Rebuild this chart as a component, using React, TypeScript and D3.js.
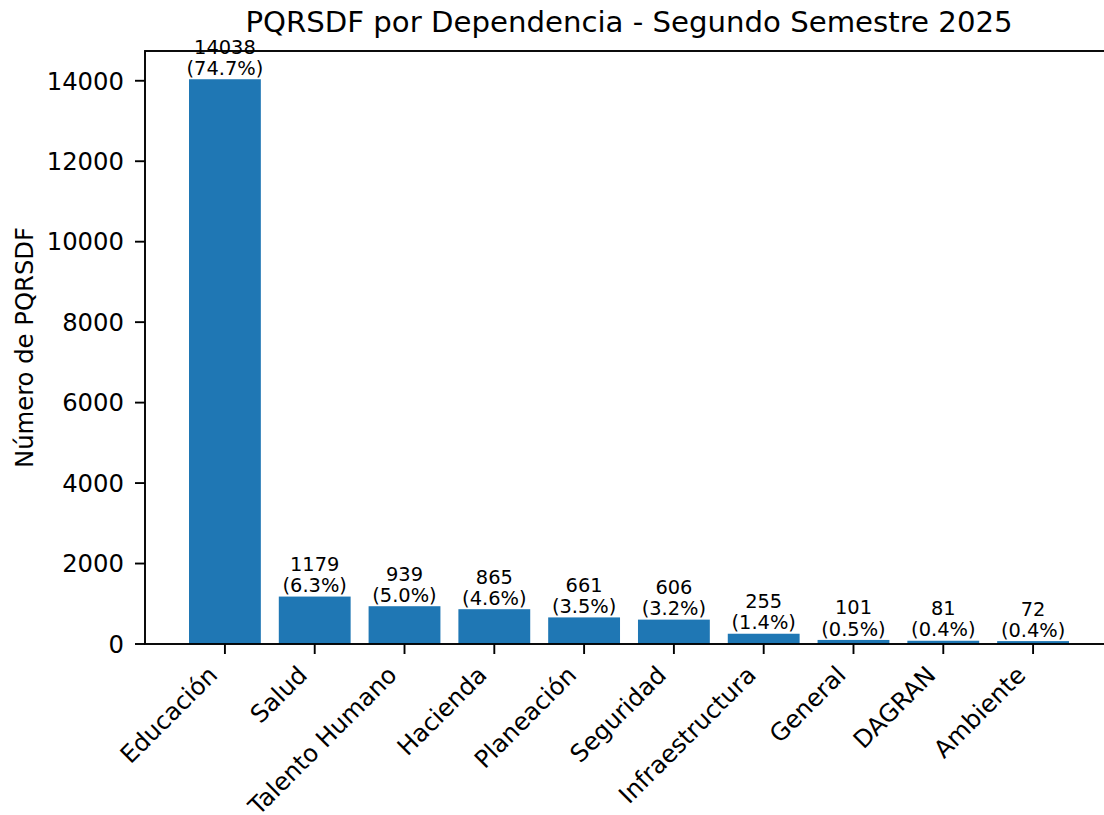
import React, { useEffect, useRef } from 'react';
import * as d3 from 'd3';

const dependencias = [
  'Educación', 'Salud', 'Talento Humano', 'Hacienda', 'Planeación',
  'Seguridad', 'Infraestructura', 'General', 'DAGRAN', 'Ambiente'
];
const cantidades = [14038, 1179, 939, 865, 661, 606, 255, 101, 81, 72];
const porcentajes = [74.7, 6.3, 5.0, 4.6, 3.5, 3.2, 1.4, 0.5, 0.4, 0.4];
const yTicks = [0, 2000, 4000, 6000, 8000, 10000, 12000, 14000];

const titulo = 'PQRSDF por Dependencia - Segundo Semestre 2025';
const yTitulo = 'Número de PQRSDF';

export default function App() {
  const svgRef = useRef<SVGSVGElement>(null);

  useEffect(() => {
    if (!svgRef.current) return;
    const svg = d3.select(svgRef.current);
    svg.selectAll('*').remove();

    const width = 1104;
    const height = 815;
    const left = 145, right = 1113, top = 51, bottom = 644;
    const font = 'DejaVu Sans, sans-serif';
    const tickFont = 24.3, labelFont = 19.4, titleFont = 29.2;
    const tickLen = 10, tickPad = 11;

    svg.attr('width', width).attr('height', height);

    const n = dependencias.length;
    const x = d3.scaleLinear().domain([-0.89, n - 1 + 0.89]).range([left, right]);
    const y = d3.scaleLinear().domain([0, d3.max(cantidades)! * 1.05]).range([bottom, top]);
    const bw = x(0.8) - x(0);

    // bars
    svg.append('g')
      .selectAll('rect')
      .data(cantidades)
      .join('rect')
      .attr('x', (_, i) => x(i) - bw / 2)
      .attr('y', d => y(d))
      .attr('width', bw)
      .attr('height', d => y(0) - y(d))
      .attr('fill', '#1f77b4');

    // value labels (count + percent)
    const lab = svg.append('g')
      .attr('font-family', font)
      .attr('font-size', labelFont)
      .attr('text-anchor', 'middle')
      .attr('fill', '#000');
    cantidades.forEach((v, i) => {
      const base = y(v) - 4.3;
      lab.append('text').attr('x', x(i)).attr('y', base - 21.3).text(String(v));
      lab.append('text').attr('x', x(i)).attr('y', base).text(`(${porcentajes[i].toFixed(1)}%)`);
    });

    // y axis ticks
    const yg = svg.append('g');
    yTicks.forEach(t => {
      yg.append('line')
        .attr('x1', left - tickLen).attr('x2', left)
        .attr('y1', y(t)).attr('y2', y(t))
        .attr('stroke', '#000').attr('stroke-width', 1.9);
      yg.append('text')
        .attr('x', left - tickLen - tickPad)
        .attr('y', y(t))
        .attr('dy', '0.36em')
        .attr('text-anchor', 'end')
        .attr('font-family', font)
        .attr('font-size', tickFont)
        .attr('fill', '#000')
        .text(String(t));
    });

    // x axis ticks + rotated labels
    const xg = svg.append('g');
    dependencias.forEach((d, i) => {
      const cx = x(i);
      xg.append('line')
        .attr('x1', cx).attr('x2', cx)
        .attr('y1', bottom).attr('y2', bottom + tickLen)
        .attr('stroke', '#000').attr('stroke-width', 1.9);
      const ax = cx - 0.707 * 0.24 * tickFont - 2;
      const ay = bottom + tickLen + tickPad + 0.707 * 0.76 * tickFont - 1.5;
      xg.append('text')
        .attr('transform', `translate(${ax},${ay}) rotate(-45)`)
        .attr('text-anchor', 'end')
        .attr('font-family', font)
        .attr('font-size', tickFont)
        .attr('fill', '#000')
        .text(d);
    });

    // spines
    svg.append('rect')
      .attr('x', left).attr('y', top)
      .attr('width', right - left).attr('height', bottom - top)
      .attr('fill', 'none')
      .attr('stroke', '#000')
      .attr('stroke-width', 1.9);

    // title
    svg.append('text')
      .attr('x', (left + right) / 2)
      .attr('y', 32)
      .attr('text-anchor', 'middle')
      .attr('font-family', font)
      .attr('font-size', titleFont)
      .attr('fill', '#000')
      .text(titulo);

    // y title
    svg.append('text')
      .attr('transform', `translate(33,${(top + bottom) / 2}) rotate(-90)`)
      .attr('text-anchor', 'middle')
      .attr('font-family', font)
      .attr('font-size', tickFont)
      .attr('fill', '#000')
      .text(yTitulo);
  }, []);

  return (
    <div style={{ position: 'absolute', left: 0, top: 0, width: 1104, height: 815, overflow: 'hidden', background: '#fff' }}>
      <svg ref={svgRef} style={{ display: 'block' }} />
    </div>
  );
}
